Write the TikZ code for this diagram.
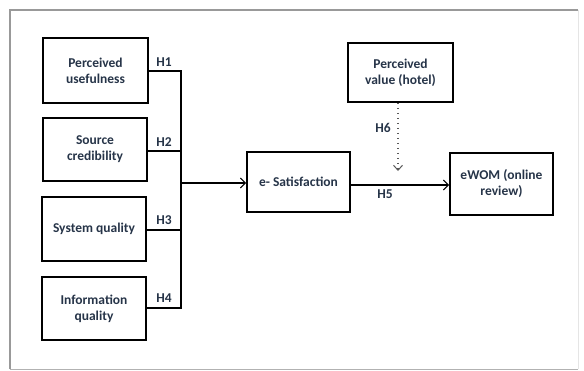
\documentclass[tikz,border=0pt]{standalone}
\usepackage{fontspec}
\setmainfont{Carlito}
\usetikzlibrary{arrows.meta}
\definecolor{txt}{RGB}{38,52,72}
\tikzset{
  box/.style={draw=black,line width=1.8pt,align=center,text=txt,font=\bfseries\fontsize{13.5}{16}\selectfont,inner sep=0pt},
  hlab/.style={text=txt,font=\bfseries\fontsize{13.5}{15}\selectfont,inner sep=0pt},
  conn/.style={draw=black,line width=1.1pt},
  arr/.style={conn,-{Straight Barb[length=5pt,width=10pt,line width=1pt]}},
}
\begin{document}
\begin{tikzpicture}[x=1pt,y=-1pt]
\useasboundingbox (0,0) rectangle (584,370);
% frame
\draw[gray!80,line width=1.2pt] (10,369) -- (10,10) -- (578,10);
\draw[gray!60,line width=1pt] (10,369) -- (578,369);
\draw[gray!20,line width=0.8pt] (578,10) -- (578,369);
% boxes
\node[box,minimum width=105pt,minimum height=65pt] (pu) at (95.5,70.5) {Perceived\\usefulness};
\node[box,minimum width=104pt,minimum height=63pt] (sc) at (95,149.5) {Source\\credibility};
\node[box,minimum width=104pt,minimum height=64pt] (sq) at (94,229) {System quality};
\node[box,minimum width=104pt,minimum height=63pt] (iq) at (94,308.5) {Information\\quality};
\node[box,minimum width=103pt,minimum height=60pt] (es) at (298.5,182) {e- Satisfaction};
\node[box,minimum width=105pt,minimum height=59pt] (pv) at (400.5,72.5) {Perceived\\value (hotel)};
\node[box,minimum width=103pt,minimum height=62pt] (ew) at (501.5,184) {eWOM (online\\review)};
% bus
\coordinate (b1) at (181,71);
\coordinate (b4) at (181,308);
\coordinate (bm) at (181,183);
\draw[conn] (pu.east |- b1) -- (b1) -- (b4) -- (iq.east |- b4);
\draw[conn] (sc.east |- 0,151) -- (181,151);
\draw[conn] (sq.east |- 0,230) -- (181,230);
\draw[arr] (bm) -- (es.west |- bm);
\draw[arr] (es.east |- 0,185) -- (ew.west |- 0,185);
\coordinate (h6end) at (398,171);
\draw[conn,line width=1.5pt,dash pattern=on 1.5pt off 3.5pt,gray!70!black,-{Straight Barb[length=5pt,width=9pt,line width=1pt]}] (pv.south -| h6end) -- (h6end);
% labels
\node[hlab] (l1) at (164,62) {H1};
\node[hlab] (l2) at (164,142) {H2};
\node[hlab] (l3) at (164,220) {H3};
\node[hlab] (l4) at (164,298) {H4};
\node[hlab] (l5) at (385,194) {H5};
\node[hlab] (l6) at (383,128) {H6};
\end{tikzpicture}
\end{document}
